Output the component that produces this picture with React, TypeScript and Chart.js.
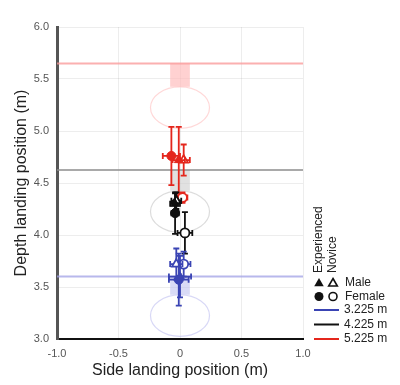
import React, { useEffect, useRef } from 'react';
import { Chart, registerables } from 'chart.js';

Chart.register(...registerables);

// Target groups (landing distance)
const groupLabels = ['3.225 m', '4.225 m', '5.225 m'];
const targetDepths = [3.225, 4.225, 5.225];
const boardDepths = [3.6, 4.625, 5.65];
const targetRadiusX = 0.24;
const targetRadiusY = 0.2;
const zoneHalfWidth = 0.08;

// Series values, ordered as groupLabels
const expMaleX = [0.0, -0.04, -0.01];
const expMaleY = [3.6, 4.3, 4.72];
const expMaleXErr = [0.09, 0.04, 0.05];
const expMaleYErr = [0.2, 0.1, 0.32];

const expFemaleX = [-0.01, -0.04, -0.07];
const expFemaleY = [3.57, 4.21, 4.76];
const expFemaleXErr = [0.08, 0.03, 0.07];
const expFemaleYErr = [0.25, 0.2, 0.28];

const novMaleX = [-0.03, -0.03, 0.03];
const novMaleY = [3.72, 4.33, 4.72];
const novMaleXErr = [0.05, 0.04, 0.05];
const novMaleYErr = [0.15, 0.08, 0.15];

const novFemaleX = [0.03, 0.04, 0.02];
const novFemaleY = [3.72, 4.02, 4.36];
const novFemaleXErr = [0.055, 0.06, 0.04];
const novFemaleYErr = [0.12, 0.2, 0.05];

const xTicks = [-1, -0.5, 0, 0.5, 1];
const yTicks = [3, 3.5, 4, 4.5, 5, 5.5, 6];

// Styles
const groupColors = ['#3a44b4', '#111111', '#e4261c'];
const boardColors = ['rgba(160,160,230,0.75)', 'rgba(140,140,140,0.75)', 'rgba(250,150,150,0.75)'];
const zoneColors = ['rgba(185,190,238,0.55)', 'rgba(205,205,205,0.6)', 'rgba(255,185,185,0.65)'];
const ringColors = ['rgba(190,190,240,0.6)', 'rgba(205,205,205,0.7)', 'rgba(255,200,200,0.7)'];
const FONT = "'Liberation Sans', Arial, sans-serif";

function drawTri(ctx: CanvasRenderingContext2D, x: number, y: number, r: number) {
  ctx.beginPath();
  ctx.moveTo(x, y - r);
  ctx.lineTo(x + r * 0.866, y + r * 0.5);
  ctx.lineTo(x - r * 0.866, y + r * 0.5);
  ctx.closePath();
}

const backgroundPlugin = {
  id: 'targets',
  beforeDatasetsDraw(chart: any) {
    const { ctx, scales, chartArea } = chart;
    const xs = scales.x;
    const ys = scales.y;
    ctx.save();
    ctx.beginPath();
    ctx.rect(chartArea.left, chartArea.top, chartArea.right - chartArea.left, chartArea.bottom - chartArea.top);
    ctx.clip();
    targetDepths.forEach((d, i) => {
      const cx = xs.getPixelForValue(0);
      const cy = ys.getPixelForValue(d);
      const rx = Math.abs(xs.getPixelForValue(targetRadiusX) - cx);
      const ry = Math.abs(ys.getPixelForValue(d + targetRadiusY) - cy);
      ctx.beginPath();
      ctx.ellipse(cx, cy, rx, ry, 0, 0, Math.PI * 2);
      ctx.strokeStyle = ringColors[i];
      ctx.lineWidth = 1.2;
      ctx.stroke();
      const x0 = xs.getPixelForValue(-zoneHalfWidth);
      const x1 = xs.getPixelForValue(zoneHalfWidth);
      const yTop = ys.getPixelForValue(boardDepths[i]);
      const yBot = ys.getPixelForValue(d + targetRadiusY);
      ctx.fillStyle = zoneColors[i];
      ctx.fillRect(x0, yTop, x1 - x0, yBot - yTop);
    });
    ctx.restore();
  },
  beforeDatasetDraw(chart: any, args: any) {
    const ds = chart.data.datasets[args.index];
    if (!ds.errX) return;
    const { ctx, scales } = chart;
    const xs = scales.x;
    const ys = scales.y;
    ctx.save();
    ctx.strokeStyle = ds.barColor;
    ctx.lineWidth = 1.8;
    const cap = 3;
    ds.data.forEach((p: any, i: number) => {
      const px = xs.getPixelForValue(p.x);
      const py = ys.getPixelForValue(p.y);
      const xl = xs.getPixelForValue(p.x - ds.errX[i]);
      const xr = xs.getPixelForValue(p.x + ds.errX[i]);
      const yt = ys.getPixelForValue(p.y + ds.errY[i]);
      const yb = ys.getPixelForValue(p.y - ds.errY[i]);
      ctx.beginPath();
      ctx.moveTo(xl, py); ctx.lineTo(xr, py);
      ctx.moveTo(xl, py - cap); ctx.lineTo(xl, py + cap);
      ctx.moveTo(xr, py - cap); ctx.lineTo(xr, py + cap);
      ctx.moveTo(px, yt); ctx.lineTo(px, yb);
      ctx.moveTo(px - cap, yt); ctx.lineTo(px + cap, yt);
      ctx.moveTo(px - cap, yb); ctx.lineTo(px + cap, yb);
      ctx.stroke();
    });
    ctx.restore();
  },
  afterDraw(chart: any) {
    const { ctx } = chart;
    ctx.save();
    ctx.fillStyle = '#222';
    ctx.font = `12px ${FONT}`;
    const colA = 319;
    const colB = 333;
    const textX = 345;
    ctx.textAlign = 'left';
    ctx.textBaseline = 'middle';
    ctx.save();
    ctx.translate(colA, 273);
    ctx.rotate(-Math.PI / 2);
    ctx.fillText('Experienced', 0, 0);
    ctx.restore();
    ctx.save();
    ctx.translate(colB, 273);
    ctx.rotate(-Math.PI / 2);
    ctx.fillText('Novice', 0, 0);
    ctx.restore();
    const rowMale = 283;
    const rowFemale = 296.5;
    ctx.fillStyle = '#111';
    ctx.strokeStyle = '#111';
    ctx.lineWidth = 1.6;
    drawTri(ctx, colA, rowMale + 0.5, 5.5);
    ctx.fill();
    drawTri(ctx, colB, rowMale + 0.5, 5);
    ctx.stroke();
    ctx.beginPath();
    ctx.arc(colA, rowFemale, 4.5, 0, Math.PI * 2);
    ctx.fill();
    ctx.beginPath();
    ctx.arc(colB, rowFemale, 4, 0, Math.PI * 2);
    ctx.stroke();
    ctx.fillStyle = '#222';
    ctx.fillText('Male', textX, rowMale);
    ctx.fillText('Female', textX, rowFemale);
    groupLabels.forEach((lab, i) => {
      const y = 310 + i * 14.5;
      ctx.strokeStyle = groupColors[i];
      ctx.lineWidth = 2;
      ctx.beginPath();
      ctx.moveTo(314, y);
      ctx.lineTo(339, y);
      ctx.stroke();
      ctx.fillStyle = '#222';
      ctx.fillText(lab, 344, y);
    });
    ctx.restore();
  },
};

function seriesDataset(xs: number[], ys: number[], ex: number[], ey: number[], gi: number, shape: string, filled: boolean) {
  return {
    type: 'scatter',
    data: [{ x: xs[gi], y: ys[gi] }],
    errX: [ex[gi]],
    errY: [ey[gi]],
    barColor: groupColors[gi],
    pointStyle: shape,
    pointRadius: shape === 'triangle' ? 5 : 4.5,
    pointBackgroundColor: filled ? groupColors[gi] : '#ffffff',
    pointBorderColor: groupColors[gi],
    pointBorderWidth: filled ? 1 : 1.8,
    showLine: false,
    order: 1,
  };
}

export default function App() {
  const ref = useRef<HTMLCanvasElement>(null);
  useEffect(() => {
    if (!ref.current) return;
    const datasets: any[] = [];
    boardDepths.forEach((d, i) => {
      datasets.push({
        type: 'scatter',
        data: [{ x: xTicks[0], y: d }, { x: xTicks[xTicks.length - 1], y: d }],
        showLine: true,
        borderColor: boardColors[i],
        borderWidth: 2,
        pointRadius: 0,
        order: 10,
      });
    });
    groupLabels.forEach((_, gi) => {
      datasets.push(seriesDataset(expFemaleX, expFemaleY, expFemaleXErr, expFemaleYErr, gi, 'circle', true));
      datasets.push(seriesDataset(expMaleX, expMaleY, expMaleXErr, expMaleYErr, gi, 'triangle', true));
      datasets.push(seriesDataset(novMaleX, novMaleY, novMaleXErr, novMaleYErr, gi, 'triangle', false));
      datasets.push(seriesDataset(novFemaleX, novFemaleY, novFemaleXErr, novFemaleYErr, gi, 'circle', false));
    });
    const chart = new Chart(ref.current, {
      type: 'scatter',
      data: { datasets },
      plugins: [backgroundPlugin],
      options: {
        animation: false,
        responsive: false,
        layout: { padding: { top: 27, right: 97, left: 0, bottom: 0 } },
        plugins: { legend: { display: false }, tooltip: { enabled: false } },
        scales: {
          x: {
            type: 'linear',
            min: -1,
            max: 1,
            afterBuildTicks: (s: any) => { s.ticks = xTicks.map((v) => ({ value: v })); },
            afterFit: (s: any) => { s.height = 46; },
            ticks: {
              callback: (v: any) => (Number(v) === 0 ? '0' : Number(v).toFixed(1)),
              font: { size: 11, family: FONT },
              color: '#555',
              padding: 8,
            },
            grid: { color: 'rgba(0,0,0,0.07)', drawTicks: false },
            border: { color: '#111', width: 2 },
            title: {
              display: true,
              text: 'Side landing position (m)',
              font: { size: 16, family: FONT },
              color: '#222',
              padding: { top: 0, bottom: 5 },
            },
          },
          y: {
            type: 'linear',
            min: 3,
            max: 6,
            afterBuildTicks: (s: any) => { s.ticks = yTicks.map((v) => ({ value: v })); },
            afterFit: (s: any) => { s.width = 57; },
            ticks: {
              callback: (v: any) => Number(v).toFixed(1),
              font: { size: 11, family: FONT },
              color: '#555',
              padding: 8,
            },
            grid: { color: 'rgba(0,0,0,0.07)', drawTicks: false },
            border: { color: '#555', width: 3 },
            title: {
              display: true,
              text: 'Depth landing position (m)',
              font: { size: 16, family: FONT },
              color: '#222',
              padding: { top: 12, bottom: 0 },
            },
          },
        },
      },
    } as any);
    return () => chart.destroy();
  }, []);
  return (
    <div style={{ position: 'fixed', left: 0, top: 0, width: 400, height: 385, background: '#fff' }}>
      <canvas ref={ref} width={400} height={385} />
    </div>
  );
}
